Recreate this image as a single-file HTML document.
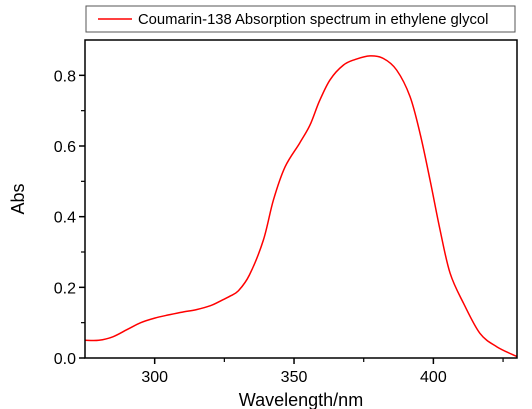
<!DOCTYPE html>
<html><head><meta charset="utf-8"><style>
body{margin:0;background:#fff}
svg{display:block;font-family:"Liberation Sans",Arial,sans-serif}
</style></head><body>
<svg id="chart" width="532" height="409">
<rect x="86" y="6" width="429" height="26" fill="#fff" stroke="#555" stroke-width="1"/>
<line x1="98" y1="19" x2="132" y2="19" stroke="#f00" stroke-width="1.5"/>
<text x="138" y="24" font-size="14.8">Coumarin-138 Absorption spectrum in ethylene glycol</text>
<g id="axes"></g>
<path id="series" fill="none" stroke="#f00" stroke-width="1.5"/>
<rect x="85" y="40" width="432" height="318" fill="none" stroke="#000" stroke-width="1.5"/>
<text x="301" y="406" font-size="18" text-anchor="middle">Wavelength/nm</text>
<text transform="translate(24,199) rotate(-90)" font-size="18" text-anchor="middle">Abs</text>
</svg>
<script>
const wavelengths=[275,280,285,290,295,300,305,310,315,320,324,327,330,334,339,342.6,346.8,352,355.7,359,362.9,367.7,372,377.3,382,386.8,391.6,395.2,398.8,402.4,406,410.8,416.7,422.7,430];
const absValues=[0.05,0.05,0.06,0.08,0.10,0.113,0.122,0.13,0.137,0.148,0.163,0.175,0.19,0.235,0.334,0.447,0.541,0.608,0.659,0.725,0.787,0.829,0.845,0.855,0.848,0.815,0.74,0.636,0.504,0.362,0.24,0.155,0.07,0.032,0.004];
const xTicks=[300,350,400];
const xMinor=[325,375,425];
const yTicks=[0,0.2,0.4,0.6,0.8];
const yMinor=[0.1,0.3,0.5,0.7];
const L=85,R=517,T=40,B=358,X0=275,X1=430,Y0=0,Y1=0.9;
const xs=v=>L+(v-X0)/(X1-X0)*(R-L);
const ys=v=>B-(v-Y0)/(Y1-Y0)*(B-T);
const NS="http://www.w3.org/2000/svg";
const g=document.getElementById('axes');
function mk(t,a){const e=document.createElementNS(NS,t);for(const k in a)e.setAttribute(k,a[k]);g.appendChild(e);return e;}
xTicks.forEach(v=>{
 const l=mk('line',{x1:xs(v),x2:xs(v),y1:B,y2:B+6,stroke:'#000','stroke-width':1.5});
 
 
 const t=mk('text',{x:xs(v),y:B+24,'font-size':16,'text-anchor':'middle'});t.textContent=v;
 
 
});
xMinor.forEach(v=>{
 const l=mk('line',{x1:xs(v),x2:xs(v),y1:B,y2:B+4,stroke:'#000','stroke-width':1.2});
 
 
});
yTicks.forEach(v=>{
 const l=mk('line',{x1:L-6,x2:L,y1:ys(v),y2:ys(v),stroke:'#000','stroke-width':1.5});
 
 
 const t=mk('text',{x:L-9,y:ys(v)+6,'font-size':16,'text-anchor':'end'});t.textContent=v.toFixed(1);
 
 
});
yMinor.forEach(v=>{
 const l=mk('line',{x1:L-4,x2:L,y1:ys(v),y2:ys(v),stroke:'#000','stroke-width':1.2});
 
 
});
const P=wavelengths.map((w,i)=>[xs(w),ys(absValues[i])]);
let d='M'+P[0][0].toFixed(1)+','+P[0][1].toFixed(1);
for(let i=0;i<P.length-1;i++){
 const p0=P[Math.max(0,i-1)],p1=P[i],p2=P[i+1],p3=P[Math.min(P.length-1,i+2)];
 const c1=[p1[0]+(p2[0]-p0[0])/6,p1[1]+(p2[1]-p0[1])/6];
 const c2=[p2[0]-(p3[0]-p1[0])/6,p2[1]-(p3[1]-p1[1])/6];
 d+=' C'+c1.map(n=>n.toFixed(1)).join(',')+' '+c2.map(n=>n.toFixed(1)).join(',')+' '+p2[0].toFixed(1)+','+p2[1].toFixed(1);
}
document.getElementById('series').setAttribute('d',d);
</script>
</body></html>
